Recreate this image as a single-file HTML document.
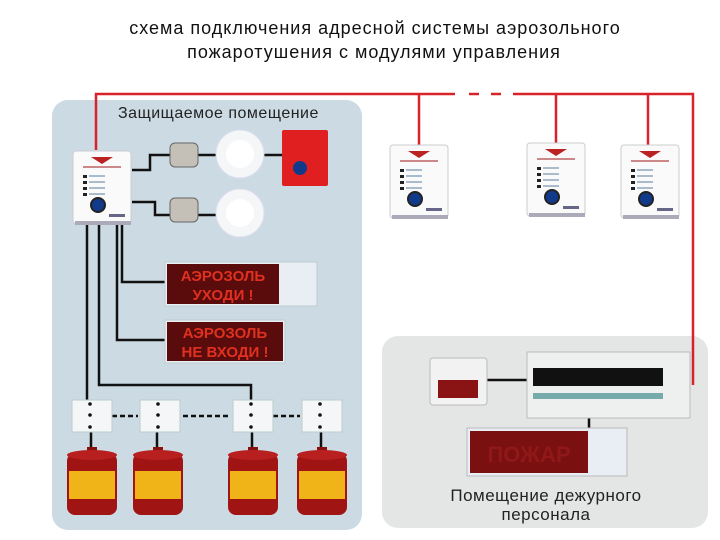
<!DOCTYPE html>
<html><head><meta charset="utf-8"><style>body{margin:0;background:#fff}svg{display:block}</style></head><body>
<svg width="720" height="540" viewBox="0 0 720 540" xmlns="http://www.w3.org/2000/svg" font-family="Liberation Sans, DejaVu Sans, sans-serif">
<defs>
<g id="mod">
<rect x="0" y="0" width="58" height="73" rx="3" fill="#fafafa" stroke="#c8ccd0"/>
<rect x="2" y="70" width="56" height="4" fill="#aab"/>
<path d="M18 6 L40 6 L29 13 Z" fill="#b22"/>
<rect x="10" y="15" width="38" height="2" fill="#c88"/>
<rect x="10" y="24" width="4" height="3" fill="#222"/><rect x="16" y="24" width="16" height="2" fill="#abc"/>
<rect x="10" y="30" width="4" height="3" fill="#222"/><rect x="16" y="30" width="16" height="2" fill="#abc"/>
<rect x="10" y="36" width="4" height="3" fill="#222"/><rect x="16" y="36" width="16" height="2" fill="#abc"/>
<rect x="10" y="42" width="4" height="3" fill="#222"/><rect x="16" y="42" width="16" height="2" fill="#abc"/>
<circle cx="25" cy="54" r="7" fill="#123a8a" stroke="#222" stroke-width="2"/>
<rect x="36" y="63" width="16" height="3" fill="#668"/>
</g>
<g id="bm"><rect x="0" y="0" width="40" height="32" fill="#f4f6f8" stroke="#bcc"/><circle cx="18" cy="4" r="1.8" fill="#111"/><circle cx="18" cy="15" r="1.8" fill="#111"/><circle cx="18" cy="27" r="1.8" fill="#111"/></g>
<g id="can"><rect x="20" y="0" width="10" height="8" fill="#8a1010"/><rect x="0" y="6" width="50" height="62" rx="8" fill="#a01414"/><ellipse cx="25" cy="8" rx="25" ry="5" fill="#b82020"/><rect x="2" y="24" width="46" height="28" fill="#f0b418"/></g>
</defs>
<text x="375" y="34" text-anchor="middle" font-size="18" letter-spacing="1" fill="#111">схема подключения адресной системы аэрозольного</text>
<text x="374" y="58" text-anchor="middle" font-size="18" letter-spacing="1" fill="#111">пожаротушения с модулями управления</text>
<rect x="52" y="100" width="310" height="430" rx="16" fill="#ccdbe3"/>
<rect x="382" y="336" width="326" height="192" rx="16" fill="#e4e6e6"/>
<g stroke="#d8232a" stroke-width="2.5" fill="none">
<path d="M96 150 V94 H455"/><path d="M469 94 H479 M491 94 H501"/><path d="M513 94 H693 V385"/>
<path d="M419 94 V145 M556 94 V143 M648 94 V145"/>
</g>
<text x="118" y="118" font-size="16" letter-spacing="0.5" fill="#222">Защищаемое помещение</text>
<g stroke="#111" stroke-width="2.5" fill="none">
<path d="M132 170 H150 V155 H240 H300"/><path d="M132 202 H155 V215 H240"/>
<path d="M87 225 V400"/><path d="M99 225 V385 H251 V400"/>
<path d="M117 225 V340 H166"/><path d="M122 225 V282 H166"/>
<path d="M91 432 V448 M157 432 V448 M252 432 V448 M321 432 V448"/>
<path d="M112 416 H138 M183 416 H231 M273 416 H300" stroke-dasharray="5 3"/>
<path d="M487 380 H527 M589 418 V428"/>
</g>
<use href="#mod" x="73" y="151"/><use href="#mod" x="390" y="145"/><use href="#mod" x="527" y="143"/><use href="#mod" x="621" y="145"/>
<rect x="170" y="143" width="28" height="24" rx="5" fill="#c4c0b8" stroke="#666"/>
<rect x="170" y="198" width="28" height="24" rx="5" fill="#c4c0b8" stroke="#666"/>
<circle cx="240" cy="154" r="24" fill="#f4f6f8" stroke="#dde"/><circle cx="240" cy="154" r="14" fill="#fff"/>
<circle cx="240" cy="213" r="24" fill="#f4f6f8" stroke="#dde"/><circle cx="240" cy="213" r="14" fill="#fff"/>
<rect x="282" y="130" width="46" height="56" rx="2" fill="#e02020"/><circle cx="300" cy="168" r="7" fill="#123a8a"/>
<rect x="165" y="262" width="152" height="44" fill="#e8eef4" stroke="#bcc"/>
<rect x="167" y="264" width="112" height="40" fill="#5a0c0c"/>
<text x="223" y="281" text-anchor="middle" font-size="15" font-weight="bold" fill="#e03020">АЭРОЗОЛЬ</text>
<text x="223" y="300" text-anchor="middle" font-size="15" font-weight="bold" fill="#e03020">УХОДИ !</text>
<rect x="165" y="320" width="120" height="43" fill="#e8eef4" stroke="#bcc"/>
<rect x="167" y="322" width="116" height="39" fill="#5a0c0c"/>
<text x="225" y="338" text-anchor="middle" font-size="15" font-weight="bold" fill="#e03020">АЭРОЗОЛЬ</text>
<text x="225" y="357" text-anchor="middle" font-size="15" font-weight="bold" fill="#e03020">НЕ ВХОДИ !</text>
<use href="#bm" x="72" y="400"/><use href="#bm" x="140" y="400"/><use href="#bm" x="233" y="400"/><use href="#bm" x="302" y="400"/>
<use href="#can" x="67" y="447"/><use href="#can" x="133" y="447"/><use href="#can" x="228" y="447"/><use href="#can" x="297" y="447"/>
<rect x="430" y="358" width="57" height="47" rx="3" fill="#f2f2f2" stroke="#bbb"/><rect x="438" y="380" width="40" height="18" fill="#8a1414"/>
<rect x="527" y="352" width="163" height="66" fill="#eef0f0" stroke="#bbb"/>
<rect x="533" y="368" width="130" height="18" fill="#111"/><rect x="533" y="393" width="130" height="6" fill="#7aa"/>
<rect x="467" y="428" width="160" height="48" fill="#e8eef4" stroke="#bbb"/><rect x="470" y="431" width="118" height="42" fill="#7a1010"/>
<text x="529" y="462" text-anchor="middle" font-size="22" font-weight="bold" fill="#901818">ПОЖАР</text>
<text x="546" y="501" text-anchor="middle" font-size="17" letter-spacing="0.5" fill="#222">Помещение дежурного</text>
<text x="546" y="520" text-anchor="middle" font-size="17" letter-spacing="0.5" fill="#222">персонала</text>
</svg>
</body></html>
